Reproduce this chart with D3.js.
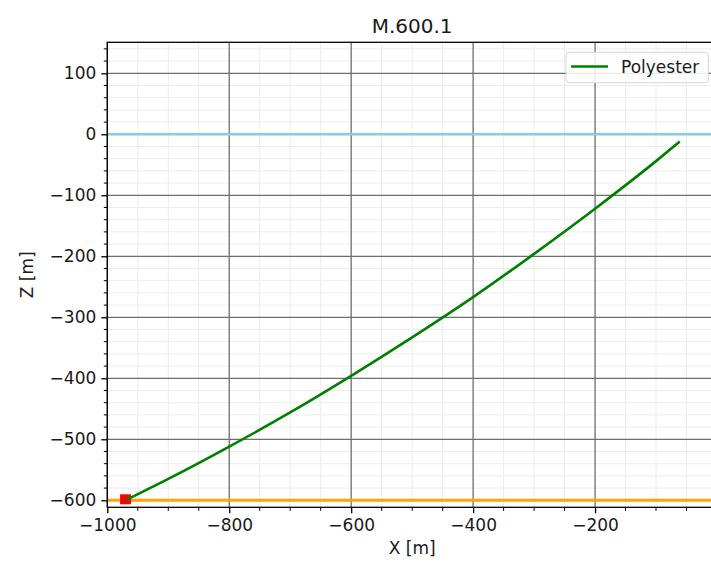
<!DOCTYPE html>
<html>
<head>
<meta charset="utf-8">
<script src="https://cdn.jsdelivr.net/npm/d3@7"></script>
<style>
  body { margin: 0; background: #fff; }
  svg { display: block; overflow: hidden; }
  text { font-family: "DejaVu Sans", sans-serif; fill: #1a1a1a; }
</style>
</head>
<body>
<svg id="chart" width="711" height="562"></svg>
<script>
// mooring line profile
var lineX = [-970, -900, -800, -700, -600, -500, -400, -300, -200, -100, -61];
var lineZ = [-600, -565, -512, -456, -396, -333, -267, -196, -122, -44, -12];
var anchor = [-970, -600];
var seaLevel = 0;
var seabed = -600;
var xTicks = [-1000, -800, -600, -400, -200];
var zTicks = [100, 0, -100, -200, -300, -400, -500, -600];
var title = "M.600.1";
var seriesName = "Polyester";

var svg = d3.select("#chart");
var pLeft = 107.3, pRight = 717, pTop = 42.3, pBottom = 507.3;

var x = d3.scaleLinear().domain([-1000, 0]).range([pLeft, pRight]);
var y = d3.scaleLinear().domain([150.8, -611.5]).range([pTop, pBottom]);

var fmt = function(d) { return d < 0 ? "\u2212" + Math.abs(d) : String(d); };

var g = svg.append("g");

// minor grid
var xMinor = d3.range(-1000, 1, 50).filter(function(d) { return xTicks.indexOf(d) < 0; });
var zMinor = d3.range(-600, 151, 20).filter(function(d) { return zTicks.indexOf(d) < 0; });

g.selectAll(".vminor").data(xMinor).enter().append("line")
    .attr("x1", x).attr("x2", x).attr("y1", pTop).attr("y2", pBottom)
    .attr("stroke", "#ececec").attr("stroke-width", 1);
g.selectAll(".hminor").data(zMinor).enter().append("line")
    .attr("x1", pLeft).attr("x2", pRight).attr("y1", y).attr("y2", y)
    .attr("stroke", "#ececec").attr("stroke-width", 1);

// major grid
g.selectAll(".vmajor").data(xTicks).enter().append("line")
    .attr("x1", x).attr("x2", x).attr("y1", pTop).attr("y2", pBottom)
    .attr("stroke", "#6e6e6e").attr("stroke-width", 1.3);
g.selectAll(".hmajor").data(zTicks).enter().append("line")
    .attr("x1", pLeft).attr("x2", pRight).attr("y1", y).attr("y2", y)
    .attr("stroke", "#6e6e6e").attr("stroke-width", 1.3);

// sea level and seabed
g.append("line")
    .attr("x1", pLeft).attr("x2", pRight).attr("y1", y(seaLevel)).attr("y2", y(seaLevel))
    .attr("stroke", "#7fcfe8").attr("stroke-width", 2.6);
g.append("line")
    .attr("x1", pLeft).attr("x2", pRight).attr("y1", y(seabed)).attr("y2", y(seabed))
    .attr("stroke", "#ffa500").attr("stroke-width", 3);

// anchor
g.append("rect")
    .attr("x", x(anchor[0]) - 5.5).attr("y", y(anchor[1]) - 6)
    .attr("width", 11).attr("height", 10)
    .attr("fill", "#ff0000");

// line
var pts = lineX.map(function(d, i) { return [d, lineZ[i]]; });
g.append("path")
    .datum(pts)
    .attr("fill", "none")
    .attr("stroke", "#008000")
    .attr("stroke-width", 2.6)
    .attr("d", d3.line().x(function(d) { return x(d[0]); }).y(function(d) { return y(d[1]); })
        .curve(d3.curveMonotoneX));

// spines
svg.append("rect")
    .attr("x", pLeft).attr("y", pTop).attr("width", pRight - pLeft).attr("height", pBottom - pTop)
    .attr("fill", "none").attr("stroke", "#000").attr("stroke-width", 1.3);

// axes
var xAxis = d3.axisBottom(x).tickValues(xTicks).tickFormat(fmt).tickSize(6).tickPadding(5);
var xAxisG = svg.append("g").attr("transform", "translate(0," + pBottom + ")").call(xAxis);
var yAxis = d3.axisLeft(y).tickValues(zTicks).tickFormat(fmt).tickSize(6).tickPadding(5);
var yAxisG = svg.append("g").attr("transform", "translate(" + pLeft + ",0)").call(yAxis);

[xAxisG, yAxisG].forEach(function(a) {
  a.select(".domain").remove();
  a.selectAll(".tick line").attr("stroke", "#000").attr("stroke-width", 1.3);
  a.selectAll(".tick text").attr("font-size", 17).attr("fill", "#1a1a1a")
      .style("font-family", "DejaVu Sans");
});
xAxisG.selectAll(".tick text").attr("dy", "0.72em");

// minor ticks
svg.append("g").selectAll("line").data(xMinor).enter().append("line")
    .attr("x1", x).attr("x2", x).attr("y1", pBottom).attr("y2", pBottom + 3.5)
    .attr("stroke", "#000").attr("stroke-width", 1);
svg.append("g").selectAll("line").data(zMinor).enter().append("line")
    .attr("x1", pLeft - 3.5).attr("x2", pLeft).attr("y1", y).attr("y2", y)
    .attr("stroke", "#000").attr("stroke-width", 1);

// title and labels
svg.append("text").attr("x", (pLeft + pRight) / 2).attr("y", 33)
    .attr("text-anchor", "middle").attr("font-size", 20).text(title);
svg.append("text").attr("x", (pLeft + pRight) / 2).attr("y", 554)
    .attr("text-anchor", "middle").attr("font-size", 17).text("X [m]");
svg.append("text").attr("transform", "translate(33," + (pTop + pBottom) / 2 + ") rotate(-90)")
    .attr("text-anchor", "middle").attr("font-size", 17).text("Z [m]");

// legend
var lg = svg.append("g");
lg.append("rect").attr("x", 566).attr("y", 52.3).attr("width", 142.3).attr("height", 30.4)
    .attr("rx", 3).attr("fill", "#fff").attr("fill-opacity", 0.85)
    .attr("stroke", "#d6d6d6").attr("stroke-width", 1);
lg.append("line").attr("x1", 571).attr("x2", 608).attr("y1", 66.5).attr("y2", 66.5)
    .attr("stroke", "#008000").attr("stroke-width", 2.6);
lg.append("text").attr("x", 621).attr("y", 72.5).attr("font-size", 17).text(seriesName);
</script>
</body>
</html>
